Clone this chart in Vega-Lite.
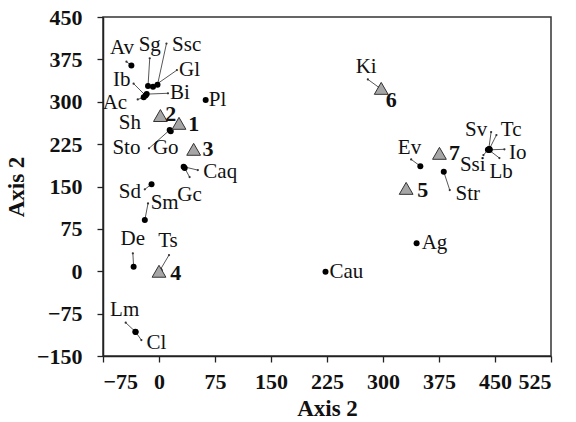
{
  "$schema": "https://vega.github.io/schema/vega-lite/v6.json",
  "width": 448,
  "height": 339,
  "autosize": {"type": "none"},
  "padding": {"left": 103, "top": 17, "right": 25, "bottom": 66},
  "background": "white",
  "config": {
    "view": {"stroke": "#333333", "strokeWidth": 1.5},
    "font": "Liberation Serif",
    "axis": {
      "grid": false,
      "domainColor": "#222222",
      "domainWidth": 1.5,
      "tickColor": "#222222",
      "tickSize": 6,
      "tickWidth": 1.3,
      "labelFont": "Liberation Serif",
      "labelFontWeight": "bold",
      "labelFontSize": 22,
      "labelColor": "#111111",
      "titleFont": "Liberation Serif",
      "titleFontWeight": "bold",
      "titleFontSize": 23,
      "titleColor": "#111111"
    }
  },
  "data": {
    "values": [
      {"n": "Av", "k": "site", "x": -37, "y": 364, "lx": -49.5, "ly": 396, "ex": -43.6, "ey": 371},
      {"n": "Sg", "k": "site", "x": -14.7, "y": 328, "lx": -12.4, "ly": 400, "ex": -12.4, "ey": 377},
      {"n": "Ssc", "k": "site", "x": -2, "y": 330, "lx": 37, "ly": 400, "ex": 10, "ey": 403},
      {"n": "Gl", "k": "site", "x": -8, "y": 326.5, "lx": 41, "ly": 357, "ex": 24, "ey": 356},
      {"n": "Ib", "k": "site", "x": -18, "y": 311, "lx": -50, "ly": 338, "ex": -34, "ey": 332},
      {"n": "Ac", "k": "site", "x": -20.5, "y": 308, "lx": -59, "ly": 297, "ex": -28.5, "ey": 304},
      {"n": "Bi", "k": "site", "x": -16.5, "y": 313.5, "lx": 28, "ly": 315, "ex": 12, "ey": 315},
      {"n": "Sh", "k": "site", "x": 1, "y": 273, "lx": -39, "ly": 262, "ex": null, "ey": null},
      {"n": "Sto", "k": "site", "x": 14.3, "y": 250, "lx": -43.6, "ly": 217.5, "ex": -13.4, "ey": 217.5},
      {"n": "Go", "k": "site", "x": 15.7, "y": 248, "lx": 9, "ly": 217.5, "ex": null, "ey": null},
      {"n": "Caq", "k": "site", "x": 33, "y": 185, "lx": 82, "ly": 175, "ex": 52, "ey": 179},
      {"n": "Gc", "k": "site", "x": 34.4, "y": 182.7, "lx": 41, "ly": 135, "ex": 41, "ey": 166.7},
      {"n": "Pl", "k": "site", "x": 62.5, "y": 303, "lx": 78.5, "ly": 303, "ex": null, "ey": null},
      {"n": "Sd", "k": "site", "x": -10, "y": 154, "lx": -39, "ly": 140.7, "ex": -19, "ey": 145},
      {"n": "Sm", "k": "site", "x": -19, "y": 90.6, "lx": 7.6, "ly": 120, "ex": -14.7, "ey": 120},
      {"n": "De", "k": "site", "x": -34, "y": 8, "lx": -35, "ly": 56.5, "ex": -35, "ey": 31.7},
      {"n": "Ts", "k": "site", "x": 1, "y": 1, "lx": 12, "ly": 54, "ex": 13.4, "ey": 28.7},
      {"n": "Lm", "k": "site", "x": -31.6, "y": -107, "lx": -46, "ly": -68.7, "ex": -44.6, "ey": -91},
      {"n": "Cl", "k": "site", "x": -31.3, "y": -107.5, "lx": -3.5, "ly": -127.6, "ex": -23.6, "ey": -121.8},
      {"n": "Cau", "k": "site", "x": 223, "y": -1, "lx": 251, "ly": -1.4, "ex": null, "ey": null},
      {"n": "Ag", "k": "site", "x": 345, "y": 49.4, "lx": 369, "ly": 49.4, "ex": null, "ey": null},
      {"n": "Ki", "k": "site", "x": 297, "y": 323, "lx": 277.5, "ly": 362, "ex": 279.7, "ey": 339.6},
      {"n": "Ev", "k": "site", "x": 350, "y": 186, "lx": 335.5, "ly": 218.6, "ex": 337.7, "ey": 198},
      {"n": "Str", "k": "site", "x": 381.4, "y": 176, "lx": 413.5, "ly": 136.6, "ex": 389.4, "ey": 143.7},
      {"n": "Sv", "k": "site", "x": 441.6, "y": 216, "lx": 424.7, "ly": 250, "ex": 444.8, "ey": 246.4},
      {"n": "Tc", "k": "site", "x": 442.5, "y": 216.5, "lx": 471.6, "ly": 250, "ex": 451.9, "ey": 241},
      {"n": "Io", "k": "site", "x": 443, "y": 215, "lx": 480.4, "ly": 209.7, "ex": 462.6, "ey": 215.8},
      {"n": "Lb", "k": "site", "x": 442, "y": 214.5, "lx": 458.2, "ly": 176.1, "ex": 455.9, "ey": 200.4},
      {"n": "Ssi", "k": "site", "x": 440.5, "y": 215, "lx": 420.2, "ly": 188, "ex": 434.5, "ey": 205.6},
      {"n": "1", "k": "group", "x": 26.8, "y": 261.8, "lx": 46.4, "ly": 260.5, "ex": null, "ey": null},
      {"n": "2", "k": "group", "x": 1.9, "y": 275.6, "lx": 15.7, "ly": 278.2, "ex": null, "ey": null},
      {"n": "3", "k": "group", "x": 46.4, "y": 215.8, "lx": 65.6, "ly": 215.8, "ex": null, "ey": null},
      {"n": "4", "k": "group", "x": 0, "y": 0, "lx": 22.3, "ly": -2.7, "ex": null, "ey": null},
      {"n": "5", "k": "group", "x": 331, "y": 146.7, "lx": 353.3, "ly": 143.7, "ex": null, "ey": null},
      {"n": "6", "k": "group", "x": 297.6, "y": 323.7, "lx": 311, "ly": 303, "ex": null, "ey": null},
      {"n": "7", "k": "group", "x": 375.6, "y": 208.7, "lx": 395.7, "ly": 208.7, "ex": null, "ey": null}
    ]
  },
  "layer": [
    {
      "transform": [{"filter": "isValid(datum.ex)"}],
      "mark": {"type": "rule", "color": "#444444", "strokeWidth": 0.9},
      "encoding": {
        "x": {"field": "x", "type": "quantitative", "scale": {"domain": [-75, 525], "nice": false, "zero": false},
          "axis": {"title": "Axis 2", "values": [-75, 0, 75, 150, 225, 300, 375, 450, 525], "labelPadding": 9, "titlePadding": 5}},
        "y": {"field": "y", "type": "quantitative", "scale": {"domain": [-150, 450], "nice": false, "zero": false},
          "axis": {"title": "Axis 2", "values": [-150, -75, 0, 75, 150, 225, 300, 375, 450], "labelPadding": 15, "titlePadding": 8}},
        "x2": {"field": "ex"},
        "y2": {"field": "ey"}
      }
    },
    {
      "transform": [{"filter": "isValid(datum.ex)"}],
      "mark": {"type": "point", "filled": true, "color": "#333333", "size": 5, "opacity": 1},
      "encoding": {
        "x": {"field": "ex", "type": "quantitative"},
        "y": {"field": "ey", "type": "quantitative"}
      }
    },
    {
      "transform": [{"filter": "datum.k === 'site'"}],
      "mark": {"type": "point", "shape": "circle", "filled": true, "color": "#000000", "size": 36, "opacity": 1},
      "encoding": {
        "x": {"field": "x", "type": "quantitative"},
        "y": {"field": "y", "type": "quantitative"}
      }
    },
    {
      "transform": [{"filter": "datum.k === 'group'"}],
      "mark": {"type": "point", "shape": "triangle-up", "filled": true, "fill": "#a6a6a6", "stroke": "#333333", "strokeWidth": 1, "size": 190, "opacity": 1},
      "encoding": {
        "x": {"field": "x", "type": "quantitative"},
        "y": {"field": "y", "type": "quantitative"}
      }
    },
    {
      "transform": [{"filter": "datum.k === 'site'"}],
      "mark": {"type": "text", "font": "Liberation Serif", "fontSize": 21, "color": "#111111", "align": "center", "baseline": "middle"},
      "encoding": {
        "x": {"field": "lx", "type": "quantitative"},
        "y": {"field": "ly", "type": "quantitative"},
        "text": {"field": "n"}
      }
    },
    {
      "transform": [{"filter": "datum.k === 'group'"}],
      "mark": {"type": "text", "font": "Liberation Serif", "fontSize": 22, "fontWeight": "bold", "color": "#111111", "align": "center", "baseline": "middle"},
      "encoding": {
        "x": {"field": "lx", "type": "quantitative"},
        "y": {"field": "ly", "type": "quantitative"},
        "text": {"field": "n"}
      }
    }
  ]
}
